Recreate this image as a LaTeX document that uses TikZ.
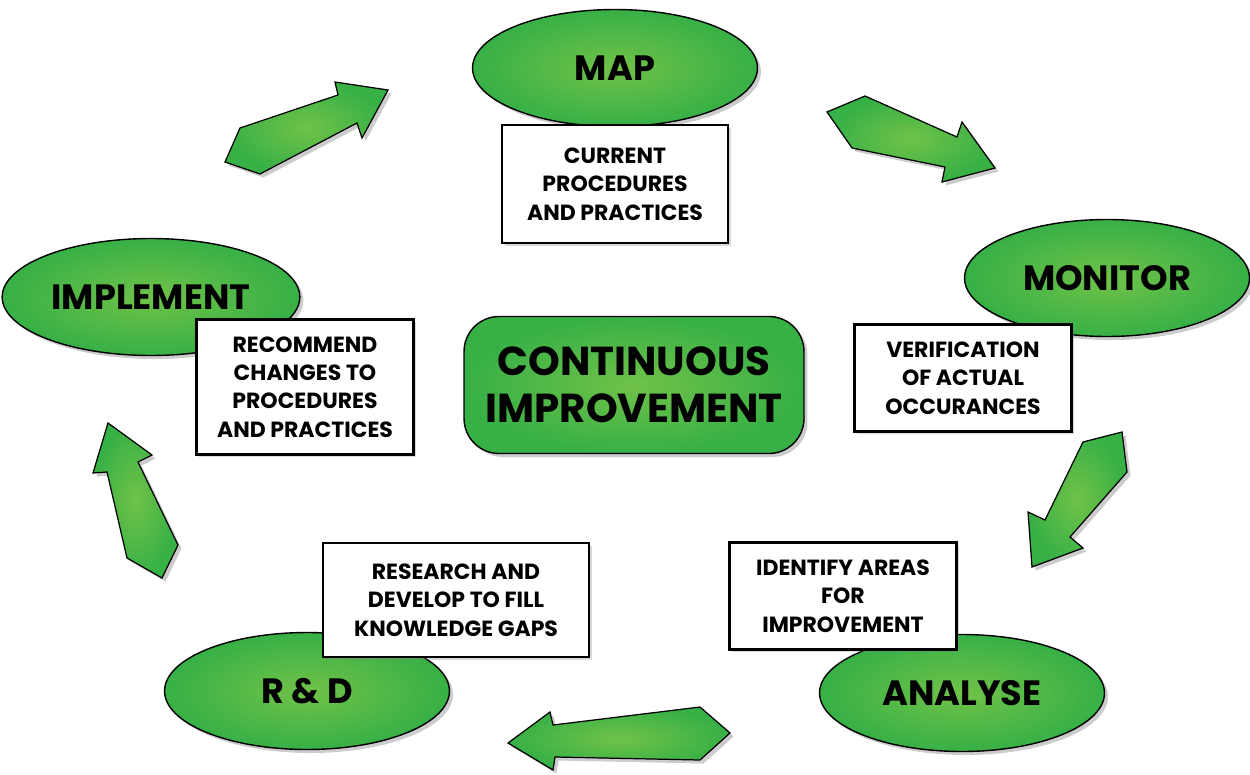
\documentclass[tikz,border=0pt]{standalone}
\usepackage{fontspec}
\setmainfont{Poppins}
\usetikzlibrary{shapes.geometric,shadows}

\definecolor{leafgreen}{RGB}{55,176,70}
\definecolor{lightleaf}{RGB}{112,194,72}

\begin{document}
\begin{tikzpicture}[x=0.02cm, y=-0.02cm,
  stage/.style={ellipse, draw=black, line width=0.8pt, inner color=lightleaf, outer color=leafgreen, drop shadow={shadow xshift=2pt, shadow yshift=-2pt, opacity=.4}, minimum width=5.7cm, minimum height=2.34cm, font=\fontsize{20}{22}\selectfont\bfseries},
  note/.style={rectangle, draw=black, line width=1.2pt, fill=white, drop shadow={shadow xshift=1.5pt, shadow yshift=-1.5pt, opacity=.3}, align=center, inner sep=0pt, font=\fontsize{12.5}{16.2}\selectfont\bfseries},
  turn/.style={draw=black, line width=0.7pt, inner color=lightleaf, outer color=leafgreen, drop shadow={shadow xshift=2pt, shadow yshift=-2pt, opacity=.4}}]
  \useasboundingbox (0,0) rectangle (1250,774);

  % centre
  \node[rectangle, rounded corners=0.7cm, draw=black, line width=0.8pt, inner color=lightleaf, outer color=leafgreen, drop shadow={shadow xshift=2pt, shadow yshift=-2pt, opacity=.4}, minimum width=6.8cm, minimum height=2.74cm, align=center, font=\fontsize{23}{26.6}\selectfont\bfseries] (ci) at (634,385) {CONTINUOUS\\IMPROVEMENT};

  % stages
  \node[stage] (map) at (615,68) {MAP};
  \node[stage] (monitor) at (1107,278) {MONITOR};
  \node[stage] (analyse) at (962,693) {ANALYSE};
  \node[stage] (rd) at (307,691) {R \& D};
  \node[stage] (implement) at (151,297) {IMPLEMENT};

  % notes
  \node[note, minimum width=4.52cm, minimum height=2.36cm] (mapnote) at (615,184) {CURRENT\\PROCEDURES\\AND PRACTICES};
  \node[note, minimum width=4.34cm, minimum height=2.14cm] (monnote) at (963,378) {VERIFICATION\\OF ACTUAL\\OCCURANCES};
  \node[note, minimum width=4.54cm, minimum height=2.14cm] (annote) at (843,596) {IDENTIFY AREAS\\FOR\\IMPROVEMENT};
  \node[note, minimum width=5.32cm, minimum height=2.28cm] (rdnote) at (456,600) {RESEARCH AND\\DEVELOP TO FILL\\KNOWLEDGE GAPS};
  \node[note, minimum width=4.34cm, minimum height=2.7cm] (impnote) at (305,387) {RECOMMEND\\CHANGES TO\\PROCEDURES\\AND PRACTICES};

  % block arrows round the cycle
  \draw[turn] (240,128) -- (225,162) -- (260,174) -- (357,123) -- (362,138) -- (388,90) -- (335,82) -- (338,95) -- cycle;
  \draw[turn] (865,96) -- (827,112) -- (852,148) -- (945,167) -- (942,182) -- (995,168) -- (962,122) -- (957,137) -- cycle;
  \draw[turn] (1083,442) -- (1122,432) -- (1127,472) -- (1070,537) -- (1083,548) -- (1032,567) -- (1028,512) -- (1045,520) -- cycle;
  \draw[turn] (508,743) -- (550,712) -- (553,725) -- (700,707) -- (730,733) -- (700,760) -- (555,757) -- (553,770) -- cycle;
  \draw[turn] (108,423) -- (152,455) -- (138,462) -- (178,545) -- (162,578) -- (127,558) -- (107,472) -- (93,473) -- cycle;
\end{tikzpicture}
\end{document}
